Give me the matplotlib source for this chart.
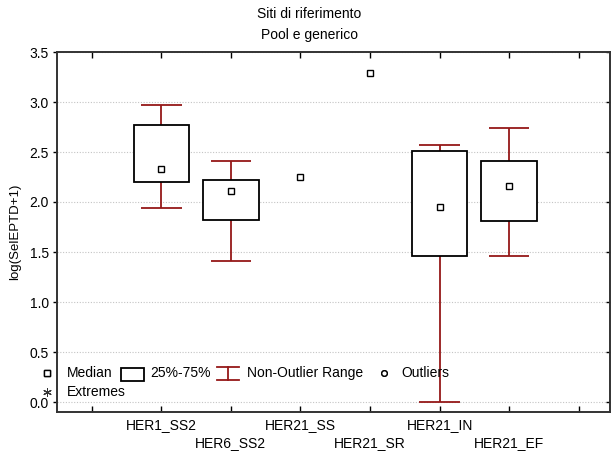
import numpy as np
import matplotlib
matplotlib.use("Agg")
import matplotlib.pyplot as plt
from matplotlib.patches import Rectangle
from matplotlib.lines import Line2D

plt.rcParams['font.family'] = ['Liberation Sans', 'DejaVu Sans']
plt.rcParams['font.size'] = 10

# === Data: box summaries per site (nan = not available) ===
sites = ["HER1_SS2", "HER6_SS2", "HER21_SS", "HER21_SR", "HER21_IN", "HER21_EF"]
medians = [2.33, 2.11, 2.25, 3.29, 1.95, 2.16]
q25 = [2.20, 1.82, np.nan, np.nan, 1.46, 1.81]
q75 = [2.77, 2.22, np.nan, np.nan, 2.51, 2.41]
whisk_lo = [1.94, 1.41, np.nan, np.nan, 0.00, 1.46]
whisk_hi = [2.97, 2.41, np.nan, np.nan, 2.57, 2.74]

# === Style ===
W, H = 611, 454
BOX_W = 0.8
CAP_W = 0.58
RED = "#951818"

fig = plt.figure(figsize=(W / 100, H / 100), dpi=100)
ax = fig.add_axes([57 / W, 1 - 412 / H, (610 - 57) / W, (412 - 52) / H])

def px(x, y):
    return x / W, 1 - y / H

# === Boxes and whiskers ===
for i, site in enumerate(sites):
    x = i + 1
    if not np.isnan(whisk_lo[i]):
        ax.vlines(x, whisk_lo[i], q25[i], color=RED, lw=1.3, zorder=2)
        ax.vlines(x, q75[i], whisk_hi[i], color=RED, lw=1.3, zorder=2)
        ax.hlines([whisk_lo[i], whisk_hi[i]], x - CAP_W / 2, x + CAP_W / 2, color=RED, lw=1.3, zorder=2)
    if not np.isnan(q25[i]):
        ax.add_patch(Rectangle((x - BOX_W / 2, q25[i]), BOX_W, q75[i] - q25[i],
                               fc="white", ec="black", lw=1.3, zorder=3))
    ax.plot(x, medians[i], marker="s", ms=5, mfc="white", mec="black", mew=1, zorder=4)

# === Axes ===
ax.set_xlim(-0.5, 7.45)
ax.set_ylim(-0.1, 3.5)
yt = np.arange(0, 3.51, 0.5)
ax.set_yticks(yt)
ax.set_yticklabels([f"{v:.1f}" for v in yt])
xlabels = [""] + [s if k % 2 == 0 else "\n" + s for k, s in enumerate(sites)] + [""]
ax.set_xticks(range(8))
ax.set_xticklabels(xlabels, linespacing=1.4)
ax.tick_params(axis="x", direction="in", top=True, length=4, width=1, pad=4)
ax.tick_params(axis="y", direction="out", length=3, width=1, pad=3)
ax.tick_params(axis="y", which="both", right=True)
for t in ax.yaxis.get_ticklines()[1::2]:
    t.set_marker(0)
ax.grid(axis="y", color="#c4c4c4", linestyle=(0, (1, 1.5)), lw=0.8)
ax.set_axisbelow(True)
for sp in ax.spines.values():
    sp.set_linewidth(1.4)
    sp.set_color("#333333")

# === Titles ===
fig.text(*px(309, 14), "Siti di riferimento", ha="center", va="center")
fig.text(*px(309, 35), "Pool e generico", ha="center", va="center")
fig.text(*px(15, 232), "log(SelEPTD+1)", ha="center", va="center", rotation=90, fontsize=9.5)

# === Legend drawn across the lower part of the plot ===
tf = fig.transFigure
r1, r2 = 373, 392
fig.add_artist(Line2D(*zip(px(47, r1), px(47, r1)), marker="s", ms=5, mfc="white", mec="black", mew=1, transform=tf))
fig.text(*px(67, r1), "Median", va="center")
x0, y0 = px(121, 381)
x1, y1 = px(144, 368)
fig.add_artist(Rectangle((x0, y0), x1 - x0, y1 - y0, fc="white", ec="black", lw=1.3, transform=tf))
fig.text(*px(150, r1), "25%-75%", va="center")
for a, b in [((217, 367), (239, 367)), ((217, 380), (239, 380)), ((228, 367), (228, 380))]:
    fig.add_artist(Line2D(*zip(px(*a), px(*b)), color=RED, lw=1.3, transform=tf))
fig.text(*px(247, r1), "Non-Outlier Range", va="center")
fig.add_artist(Line2D(*zip(px(384, r1), px(384, r1)), marker="o", ms=4, mfc="white", mec="black", mew=1, transform=tf))
fig.text(*px(401, r1), "Outliers", va="center")
fig.add_artist(Line2D(*zip(px(47, r2), px(47, r2)), marker=(6, 2, 0), ms=6, color="#333333", mew=0.7, transform=tf))
fig.text(*px(67, r2), "Extremes", va="center")

fig.savefig("out.png", dpi=100)
